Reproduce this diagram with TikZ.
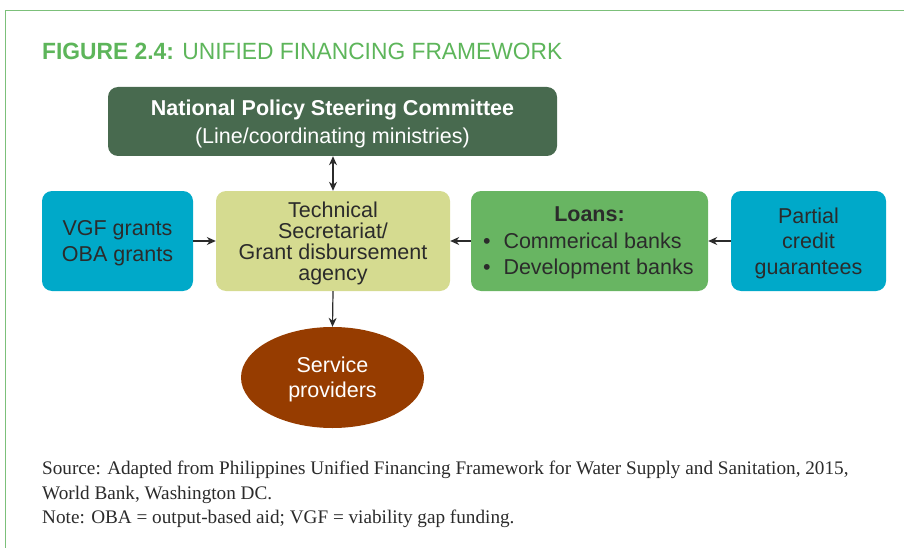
\documentclass[tikz,border=0pt]{standalone}
\usepackage{fontspec}
\setmainfont{Liberation Sans}
\newfontfamily\titlefont[FakeStretch=0.97]{Liberation Sans}
\newfontfamily\notefont{Liberation Serif}
\usetikzlibrary{shapes.geometric,arrows.meta}
\definecolor{framegreen}{HTML}{7CC07A}
\definecolor{titlegreen}{HTML}{5DB55A}
\definecolor{topgreen}{HTML}{486A4F}
\definecolor{cyanbox}{HTML}{00A9C9}
\definecolor{olivebox}{HTML}{D5DB90}
\definecolor{loangreen}{HTML}{68B562}
\definecolor{brownell}{HTML}{963C00}
\definecolor{inkgray}{HTML}{2B2B2B}
\tikzset{
  boxbase/.style={rounded corners=10pt, inner sep=2pt, align=center, text depth=0pt, font=\fontsize{21.5}{25.5}\selectfont, text=inkgray},
  cyanstyle/.style={boxbase, fill=cyanbox},
  conn/.style={draw=inkgray, line width=1.2pt, -{Stealth[length=9pt,width=8pt]}},
  dconn/.style={draw=inkgray, line width=1.2pt, {Stealth[length=9pt,width=8pt]}-{Stealth[length=9pt,width=8pt]}},
}
\begin{document}
\begin{tikzpicture}[x=1pt,y=-1pt]
\useasboundingbox (0,0) rectangle (904,548);
% frame
\draw[framegreen, line width=1pt] (904,11) -- (5,11) -- (5,548);
% title
\node[anchor=base west, inner sep=0pt, text=titlegreen, font=\titlefont\fontsize{23.5}{28}\selectfont] (title) at (42,60) {\textbf{FIGURE 2.4:} UNIFIED FINANCING FRAMEWORK};
% boxes
\node[boxbase, fill=topgreen, text=white, minimum width=449pt, minimum height=69pt, font=\fontsize{21.5}{28}\selectfont] (npsc) at (332.5,121.5) {\textbf{National Policy Steering Committee}\\(Line/coordinating ministries)};
\node[cyanstyle, minimum width=151pt, minimum height=100pt] (vgf) at (117.5,241) {VGF grants\\OBA grants};
\node[boxbase, fill=olivebox, minimum width=234pt, minimum height=100pt, font=\fontsize{21.5}{21}\selectfont] (tech) at (333,241) {Technical\\Secretariat/\\Grant disbursement\\agency};
\node[boxbase, fill=loangreen, minimum width=237pt, minimum height=100pt, font=\fontsize{21.5}{26.5}\selectfont] (loans) at (589.5,241) {\textbf{Loans:}\\\makebox[213pt][l]{\textbullet\hspace{13pt}Commerical banks}\\\makebox[213pt][l]{\textbullet\hspace{13pt}Development banks}};
\node[cyanstyle, minimum width=155pt, minimum height=100pt] (pcg) at (808.5,241) {Partial\\credit\\guarantees};
\node[ellipse, fill=brownell, text=white, inner sep=0pt, text depth=0pt, minimum width=183pt, minimum height=101pt, align=center, font=\fontsize{21.5}{25}\selectfont] (sp) at (332.5,377.5) {Service\\providers};
% connectors
\draw[dconn] (npsc.south -| tech.north) -- (tech.north);
\draw[conn] (vgf.east) -- (tech.west);
\draw[conn] (loans.west) -- (tech.east);
\draw[conn] (pcg.west) -- (loans.east);
\draw[conn] (tech.south) -- (sp.north);
% note
\node[anchor=north west, inner sep=0pt, align=left, font=\notefont\fontsize{19.2}{24.5}\selectfont, text=inkgray] (note) at (42,461) {Source: Adapted from Philippines Unified Financing Framework for Water Supply and Sanitation, 2015,\\World Bank, Washington DC.\\Note: OBA = output-based aid; VGF = viability gap funding.};
\end{tikzpicture}
\end{document}
